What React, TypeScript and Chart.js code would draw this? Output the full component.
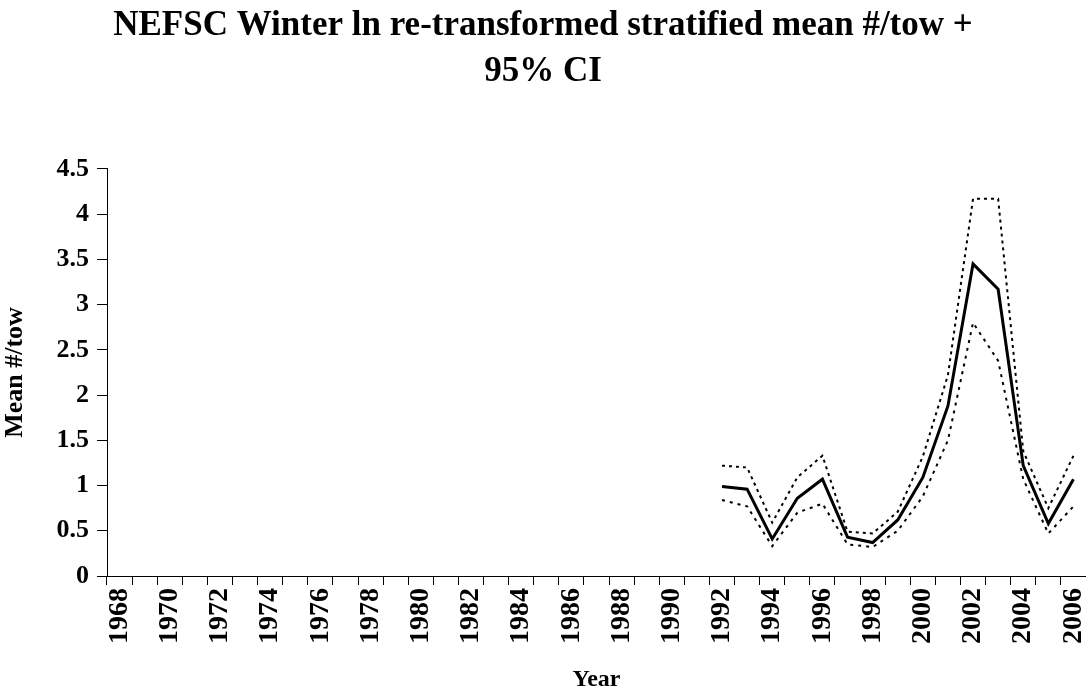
import { useEffect, useRef } from "react"
import { Chart, registerables } from "chart.js"

Chart.register(...registerables)

// categories on the x axis (one per year)
const years = [
  "1968", "1969", "1970", "1971", "1972", "1973", "1974", "1975", "1976", "1977",
  "1978", "1979", "1980", "1981", "1982", "1983", "1984", "1985", "1986", "1987",
  "1988", "1989", "1990", "1991", "1992", "1993", "1994", "1995", "1996", "1997",
  "1998", "1999", "2000", "2001", "2002", "2003", "2004", "2005", "2006",
]
// only every other year gets a label
const tickYears = [
  "1968", "1970", "1972", "1974", "1976", "1978", "1980", "1982", "1984", "1986",
  "1988", "1990", "1992", "1994", "1996", "1998", "2000", "2002", "2004", "2006",
]

// survey years that have values
const surveyYears = [
  "1992", "1993", "1994", "1995", "1996", "1997", "1998", "1999",
  "2000", "2001", "2002", "2003", "2004", "2005", "2006",
]
const meanTow = [0.99, 0.96, 0.41, 0.86, 1.07, 0.43, 0.37, 0.62, 1.09, 1.88, 3.45, 3.17, 1.22, 0.58, 1.07]
const upperCI = [1.22, 1.2, 0.59, 1.09, 1.33, 0.49, 0.47, 0.71, 1.32, 2.22, 4.17, 4.17, 1.38, 0.75, 1.33]
const lowerCI = [0.84, 0.77, 0.33, 0.7, 0.8, 0.35, 0.32, 0.5, 0.88, 1.5, 2.8, 2.38, 1.07, 0.47, 0.77]

const yTicks = [0, 0.5, 1, 1.5, 2, 2.5, 3, 3.5, 4, 4.5]

const FONT = "'Liberation Serif', 'Times New Roman', serif"

// put a series on the full year axis, empty where there was no survey
const byYear = (values: number[]) =>
  years.map((y) => {
    const i = surveyYears.indexOf(y)
    return i >= 0 ? values[i] : null
  })

export default function App() {
  const chartRef = useRef<HTMLCanvasElement>(null)
  const chartInstance = useRef<Chart | null>(null)

  useEffect(() => {
    if (!chartRef.current) return
    if (chartInstance.current) chartInstance.current.destroy()

    chartInstance.current = new Chart(chartRef.current, {
      type: "line",
      data: {
        labels: years,
        datasets: [
          {
            label: "Upper 95% CI",
            data: byYear(upperCI),
            borderColor: "#000",
            borderWidth: 2,
            borderDash: [3, 4],
            pointRadius: 0,
            tension: 0,
          },
          {
            label: "Mean #/tow",
            data: byYear(meanTow),
            borderColor: "#000",
            borderWidth: 3,
            pointRadius: 0,
            tension: 0,
          },
          {
            label: "Lower 95% CI",
            data: byYear(lowerCI),
            borderColor: "#000",
            borderWidth: 2,
            borderDash: [3, 5],
            pointRadius: 0,
            tension: 0,
          },
        ],
      },
      options: {
        animation: false,
        responsive: true,
        maintainAspectRatio: false,
        layout: { padding: { left: 0, right: 0, top: 0, bottom: 0 } },
        plugins: {
          legend: { display: false },
          tooltip: { enabled: false },
          title: {
            display: true,
            text: ["NEFSC Winter ln re-transformed stratified mean #/tow +", "95% CI"],
            color: "#000",
            font: { family: FONT, size: 35, weight: "bold", lineHeight: 1.314 },
            padding: { top: 3, bottom: 74 },
          },
        },
        scales: {
          x: {
            type: "category",
            offset: true,
            grid: {
              offset: true,
              drawOnChartArea: false,
              drawTicks: true,
              tickLength: 9,
              color: "#000",
              lineWidth: 1,
            },
            border: { display: true, color: "#000", width: 1 },
            ticks: {
              autoSkip: false,
              minRotation: 90,
              maxRotation: 90,
              padding: 3,
              color: "#000",
              font: { family: FONT, size: 28, weight: "bold" },
              callback: (_v, i) => (tickYears.includes(years[i]) ? years[i] : ""),
            },
            title: {
              display: true,
              text: "Year",
              color: "#000",
              font: { family: FONT, size: 24, weight: "bold" },
              padding: { top: 14, bottom: 0 },
            },
            afterFit: (scale) => {
              scale.height = 118
              // rotated labels should not push the axis in from the right edge
              scale.paddingLeft = 0
              scale.paddingRight = 0
            },
          },
          y: {
            min: 0,
            max: 4.5,
            afterBuildTicks: (scale) => {
              scale.ticks = yTicks.map((v) => ({ value: v }))
            },
            grid: {
              drawOnChartArea: false,
              drawTicks: true,
              tickLength: 10,
              color: "#000",
              lineWidth: 1,
            },
            border: { display: true, color: "#000", width: 1 },
            ticks: {
              padding: 8,
              color: "#000",
              font: { family: FONT, size: 26, weight: "bold" },
              callback: (v) => String(v),
            },
            title: {
              display: true,
              text: "Mean #/tow",
              color: "#000",
              font: { family: FONT, size: 26, weight: "bold" },
              padding: { top: 0, bottom: 2 },
            },
            afterFit: (scale) => {
              scale.width = 107
            },
          },
        },
      },
    })

    return () => {
      if (chartInstance.current) {
        chartInstance.current.destroy()
        chartInstance.current = null
      }
    }
  }, [])

  return (
    <div style={{ position: "absolute", left: 0, top: 0, width: 1086, height: 694, background: "#fff" }}>
      <canvas ref={chartRef}></canvas>
    </div>
  )
}
